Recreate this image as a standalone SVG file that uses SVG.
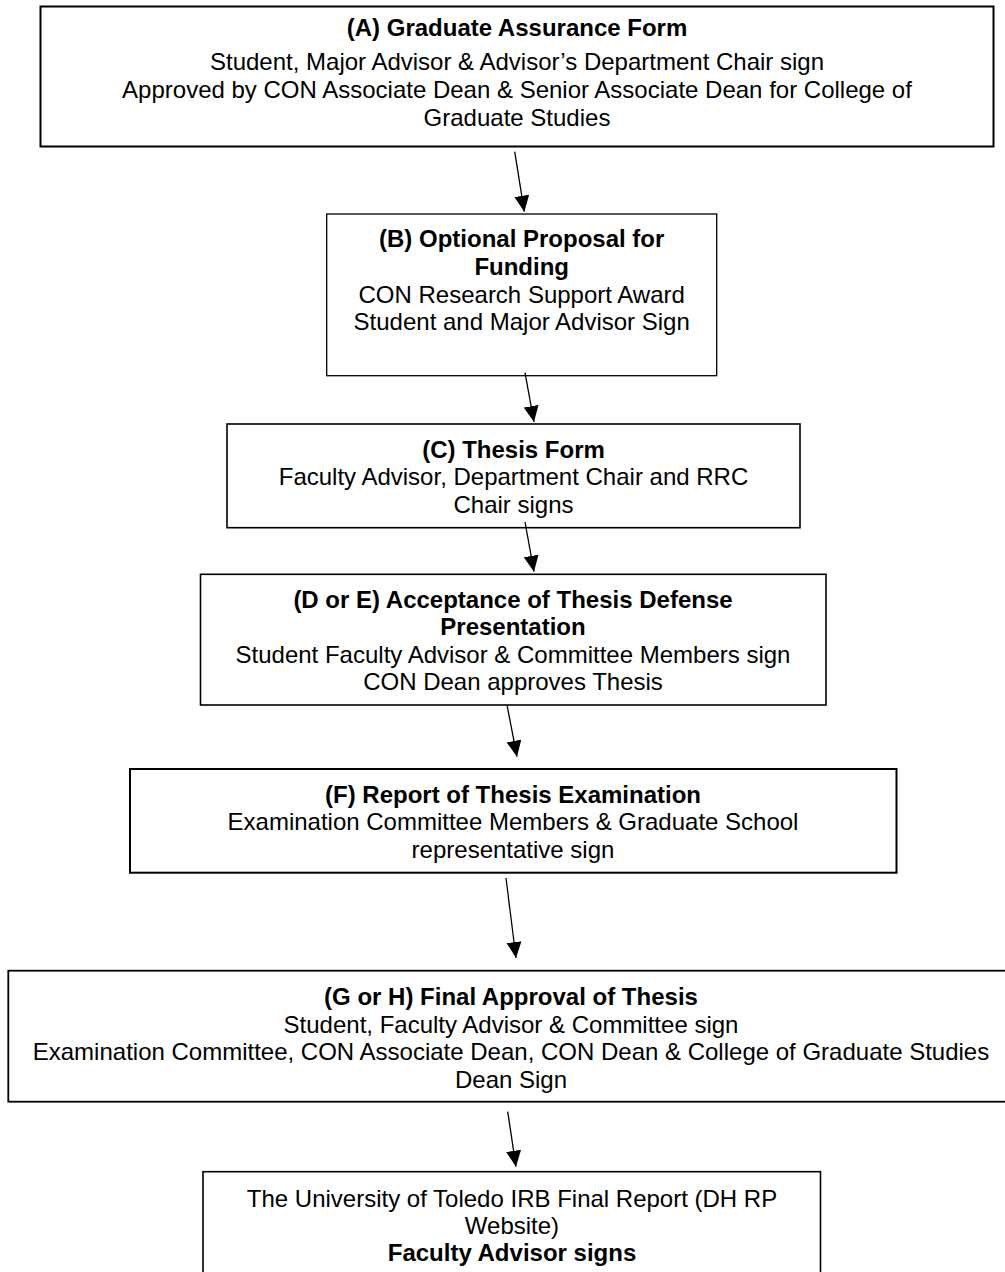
<svg xmlns="http://www.w3.org/2000/svg" width="1005" height="1272" viewBox="0 0 1005 1272">
<style>
.box{fill:#fff;stroke:#000;stroke-width:1.6}
.t{font-family:"Liberation Sans",Arial,sans-serif;font-size:24px;fill:#000;text-anchor:middle}
.b{font-weight:bold}
.c{stroke:#000;stroke-width:1.3;fill:none}
</style>
<defs>
<marker id="ah" markerUnits="userSpaceOnUse" markerWidth="18" markerHeight="18" refX="16" refY="7.5" orient="auto">
<path d="M0,0 L16,7.5 L0,15 z" fill="#000"/>
</marker>
</defs>
<rect width="1005" height="1272" fill="#fff"/>
<g id="nodeA">
<rect class="box" x="40.5" y="6.5" width="953" height="140" style="stroke-width:2"/>
<text class="t b" x="517" y="36">(A) Graduate Assurance Form</text>
<text class="t" x="517" y="70">Student, Major Advisor &amp; Advisor’s Department Chair sign</text>
<text class="t" x="517" y="98">Approved by CON Associate Dean &amp; Senior Associate Dean for College of</text>
<text class="t" x="517" y="126">Graduate Studies</text>
</g>
<g id="nodeB">
<rect class="box" x="326.7" y="214" width="390" height="161.7" style="stroke-width:1.3"/>
<text class="t b" x="521.7" y="247">(B) Optional Proposal for</text>
<text class="t b" x="521.7" y="275">Funding</text>
<text class="t" x="521.7" y="302.5">CON Research Support Award</text>
<text class="t" x="521.7" y="330">Student and Major Advisor Sign</text>
</g>
<g id="nodeC">
<rect class="box" x="227" y="424" width="573" height="103.7"/>
<text class="t b" x="513.5" y="457.5">(C) Thesis Form</text>
<text class="t" x="513.5" y="485">Faculty Advisor, Department Chair and RRC</text>
<text class="t" x="513.5" y="512.5">Chair signs</text>
</g>
<g id="nodeD">
<rect class="box" x="200.5" y="574.3" width="625.5" height="130.7"/>
<text class="t b" x="513" y="607.5">(D or E) Acceptance of Thesis Defense</text>
<text class="t b" x="513" y="635">Presentation</text>
<text class="t" x="513" y="662.5">Student Faculty Advisor &amp; Committee Members sign</text>
<text class="t" x="513" y="690">CON Dean approves Thesis</text>
</g>
<g id="nodeF">
<rect class="box" x="130" y="769" width="766.5" height="103.7" style="stroke-width:2"/>
<text class="t b" x="513" y="802.5">(F) Report of Thesis Examination</text>
<text class="t" x="513" y="830">Examination Committee Members &amp; Graduate School</text>
<text class="t" x="513" y="857.5">representative sign</text>
</g>
<g id="nodeG">
<rect class="box" x="8.3" y="970.7" width="1006" height="131" style="stroke-width:1.8"/>
<text class="t b" x="511" y="1005">(G or H) Final Approval of Thesis</text>
<text class="t" x="511" y="1032.5">Student, Faculty Advisor &amp; Committee sign</text>
<text class="t" x="511" y="1060">Examination Committee, CON Associate Dean, CON Dean &amp; College of Graduate Studies</text>
<text class="t" x="511" y="1088">Dean Sign</text>
</g>
<g id="nodeH">
<rect class="box" x="203" y="1171.7" width="617.5" height="110"/>
<text class="t" x="512" y="1206.5">The University of Toledo IRB Final Report (DH RP</text>
<text class="t" x="512" y="1234">Website)</text>
<text class="t b" x="512" y="1261">Faculty Advisor signs</text>
</g>
<g id="connectors">
<line class="c" x1="514.7" y1="151.7" x2="524.3" y2="211.7" marker-end="url(#ah)"/>
<line class="c" x1="525" y1="372.7" x2="534" y2="422" marker-end="url(#ah)"/>
<line class="c" x1="525" y1="522" x2="534" y2="571.7" marker-end="url(#ah)"/>
<line class="c" x1="507" y1="705" x2="517" y2="756.7" marker-end="url(#ah)"/>
<line class="c" x1="506" y1="878" x2="516" y2="958" marker-end="url(#ah)"/>
<line class="c" x1="507.7" y1="1111.7" x2="516" y2="1166.7" marker-end="url(#ah)"/>
</g>
</svg>
